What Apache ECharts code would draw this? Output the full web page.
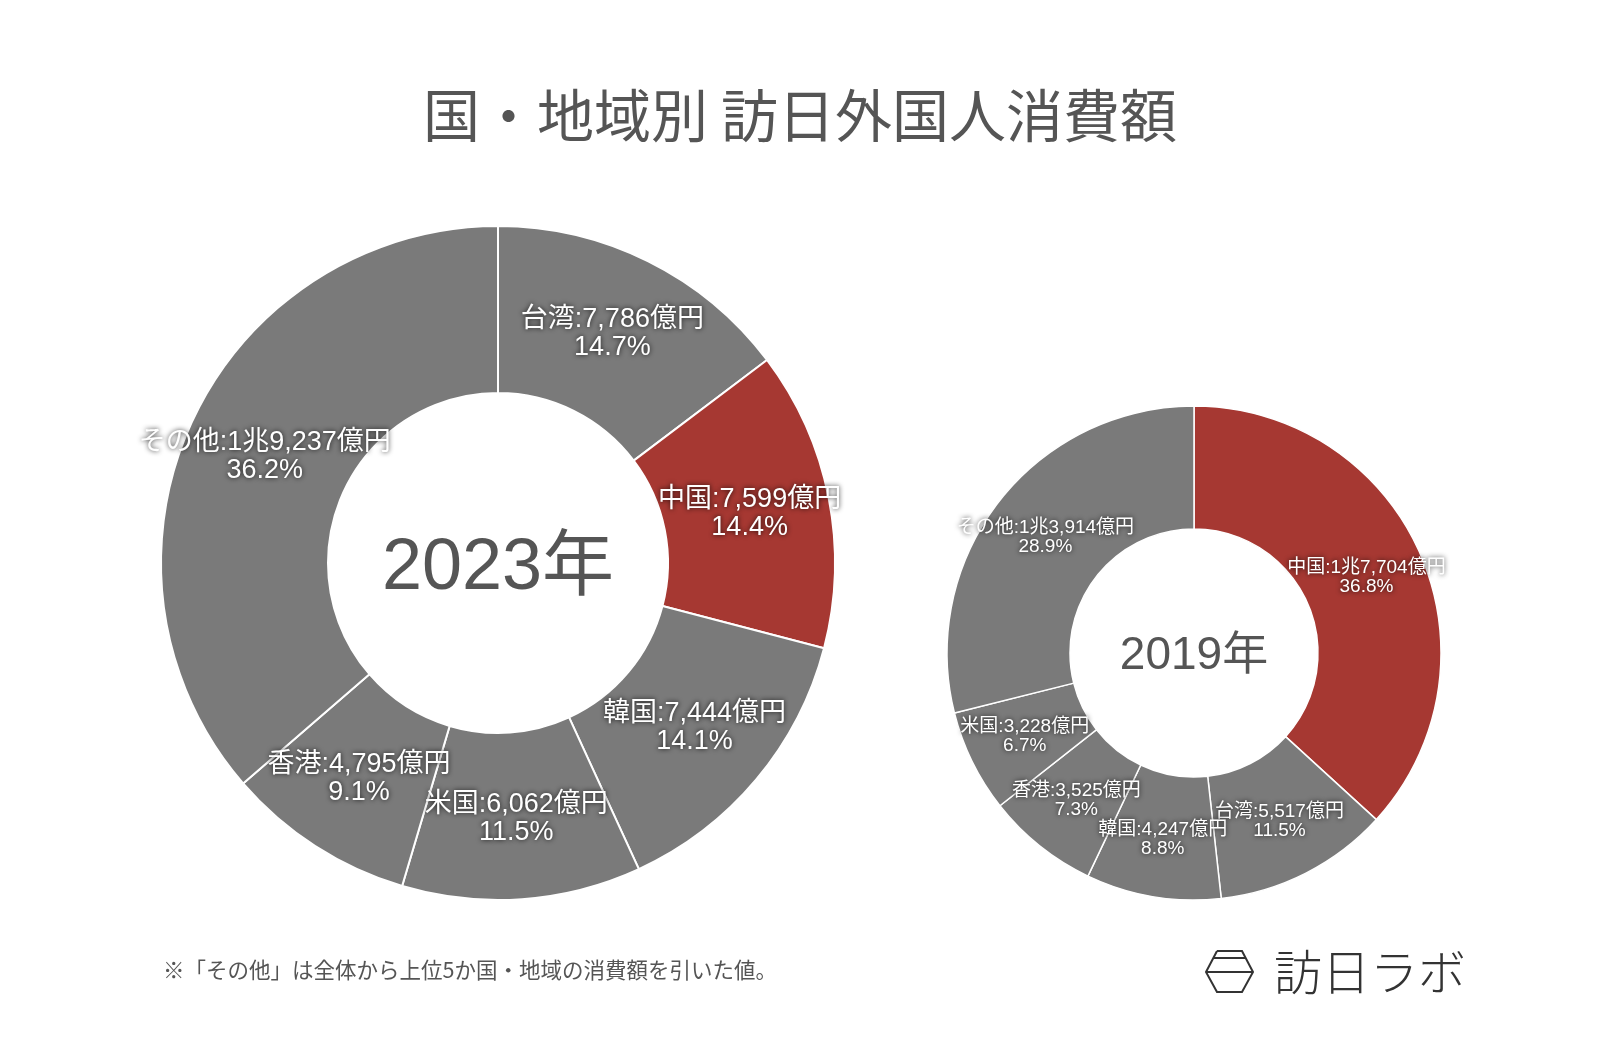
<!DOCTYPE html>
<html><head><meta charset="utf-8">
<script src="https://cdn.jsdelivr.net/npm/echarts@6/dist/echarts.min.js"></script>
<style>html,body{margin:0;padding:0;background:#fff}#c{width:1600px;height:1048px}</style>
</head><body><div id="c"></div>
<script>
const names2023 = ['台湾','中国','韓国','米国','香港','その他'];
const values2023 = [7786, 7599, 7444, 6062, 4795, 19237];
const pct2023 = ['14.7','14.4','14.1','11.5','9.1','36.2'];
const names2019 = ['中国','台湾','韓国','香港','米国','その他'];
const values2019 = [17704, 5517, 4247, 3525, 3228, 13914];
const pct2019 = ['36.8','11.5','8.8','7.3','6.7','28.9'];

const GRAY = '#7a7a7a', RED = '#a63832';
const FONT = '"Noto Sans CJK JP","Noto Sans",sans-serif';
const MIX = '"Liberation Sans","Noto Sans CJK JP",sans-serif';

function fmtOku(v){
  const cho = Math.floor(v/10000), oku = v%10000;
  const s = oku.toLocaleString('en-US');
  return (cho>0 ? cho+'兆' : '') + s + '億円';
}
function mkData(names, values, pcts){
  return names.map((n,i)=>({name:n, value:values[i], pct:pcts[i],
    itemStyle:{color: n==='中国'?RED:GRAY}}));
}
function labelCfg(size, lh){
  return {show:true, position:'inside', color:'#fff', fontFamily:MIX, fontSize:size, lineHeight:lh,
    align:'center', textShadowColor:'rgba(0,0,0,0.85)', textShadowBlur:5,
    formatter: p => p.name + ':' + fmtOku(p.value) + '\n' + p.data.pct + '%'};
}
const chart = echarts.init(document.getElementById('c'));
chart.setOption({
  backgroundColor:'#fff',
  animation:false,
  title:{text:'国・地域別 訪日外国人消費額', left:'center', top:82,
    textStyle:{fontFamily:FONT, fontSize:57, fontWeight:'normal', color:'#555'}},
  series:[
    {type:'pie', center:[498,563], radius:[170,337], startAngle:90, clockwise:true,
     itemStyle:{borderColor:'#fff', borderWidth:2}, label:labelCfg(27,28), labelLine:{show:false},
     labelLayout:{hideOverlap:false}, emphasis:{disabled:true},
     data:mkData(names2023, values2023, pct2023)},
    {type:'pie', center:[1194,653], radius:[124,247], startAngle:90, clockwise:true,
     itemStyle:{borderColor:'#fff', borderWidth:1.5}, label:labelCfg(19,19), labelLine:{show:false},
     labelLayout:{hideOverlap:false}, emphasis:{disabled:true},
     data:mkData(names2019, values2019, pct2019)}
  ],
  graphic:[
    {type:'text', x:498, y:569, style:{text:'2023年', fontFamily:MIX, fontSize:72, fill:'#555', align:'center', verticalAlign:'middle'}},
    {type:'text', x:1194, y:656, style:{text:'2019年', fontFamily:MIX, fontSize:46, fill:'#555', align:'center', verticalAlign:'middle'}},
    {type:'text', x:163, y:970, style:{text:'※「その他」は全体から上位5か国・地域の消費額を引いた値。', fontFamily:FONT, fontSize:21.5, fill:'#555', verticalAlign:'middle'}},
    {type:'polyline', shape:{points:[[1217,951],[1242,951],[1253,972],[1242,992],[1217,992],[1206,972],[1217,951]]}, style:{stroke:'#333', lineWidth:2, fill:null}},
    {type:'line', shape:{x1:1213,y1:958,x2:1246,y2:958}, style:{stroke:'#333', lineWidth:2}},
    {type:'line', shape:{x1:1206,y1:972,x2:1253,y2:972}, style:{stroke:'#333', lineWidth:2}},
    {type:'text', x:1274, y:972, style:{text:'訪日ラボ', fontFamily:FONT, fontSize:48, fontWeight:300, fill:'#333', verticalAlign:'middle'}}
  ]
});
</script></body></html>
